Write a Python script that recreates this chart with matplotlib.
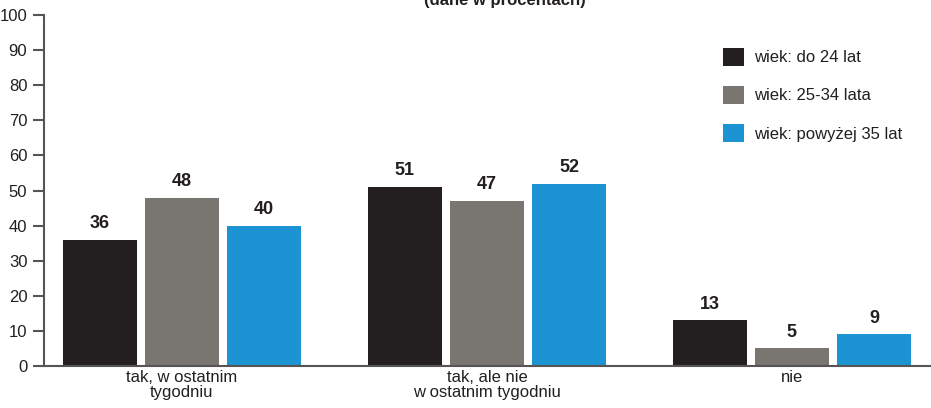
import matplotlib
matplotlib.use("Agg")
import matplotlib.pyplot as plt
from matplotlib.patches import Patch
import numpy as np

plt.rcParams['font.family'] = ['Liberation Sans Narrow', 'Liberation Sans', 'DejaVu Sans']

categories = ["tak, w ostatnim\ntygodniu", "tak, ale nie\nw ostatnim tygodniu", "nie"]
series_names = ["wiek: do 24 lat", "wiek: 25-34 lata", "wiek: powyżej 35 lat"]
values_do24 = [36, 51, 13]
values_25_34 = [48, 47, 5]
values_35plus = [40, 52, 9]
y_ticks = [0, 10, 20, 30, 40, 50, 60, 70, 80, 90, 100]
subtitle = "(dane w procentach)"

colors = ["#231f20", "#797672", "#1c93d2"]
axis_color = "#555555"
text_color = "#231f20"

fig = plt.figure(figsize=(9.31, 4.08), dpi=100)
ax = fig.add_axes([0.0473, 0.103, 0.9527, 0.86])

x = np.arange(len(categories))
width = 0.243
step = 0.269
all_series = [values_do24, values_25_34, values_35plus]
for i, (vals, col) in enumerate(zip(all_series, colors)):
    pos = x + (i - 1) * step
    bars = ax.bar(pos, vals, width=width, color=col, zorder=2)
    for b, v in zip(bars, vals):
        ax.text(b.get_x() + b.get_width() / 2, v + 2.2, str(v),
                ha='center', va='bottom', fontsize=13, fontweight='bold',
                color=text_color, family=['Liberation Sans', 'DejaVu Sans'])

ax.set_xlim(-0.452, 2.456)
ax.set_ylim(0, 100)
ax.set_yticks(y_ticks)
ax.set_yticklabels([str(t) for t in y_ticks], fontsize=12, color=text_color)
ax.set_xticks(x)
ax.set_xticklabels(categories, fontsize=12, color=text_color, linespacing=0.95)
ax.tick_params(axis='x', length=0, pad=3)
ax.tick_params(axis='y', direction='out', length=8, width=1.5, color=axis_color, pad=4)

for side in ['top', 'right']:
    ax.spines[side].set_visible(False)
for side in ['left', 'bottom']:
    ax.spines[side].set_color(axis_color)
    ax.spines[side].set_linewidth(1.5)

handles = [Patch(facecolor=c, edgecolor='none') for c in colors]
ax.legend(handles, series_names, loc='upper left', bbox_to_anchor=(0.76, 0.92),
          bbox_transform=fig.transFigure, frameon=False, fontsize=12,
          handlelength=1.3, handleheight=1.3, handletextpad=0.6, labelspacing=1.2,
          labelcolor=text_color)

fig.text(0.542, 1.0, subtitle, ha='center', va='center', fontsize=12,
         fontweight='bold', color=text_color,
         family=['Liberation Sans Narrow', 'Liberation Sans', 'DejaVu Sans'])

fig.savefig("out.png", dpi=100)
